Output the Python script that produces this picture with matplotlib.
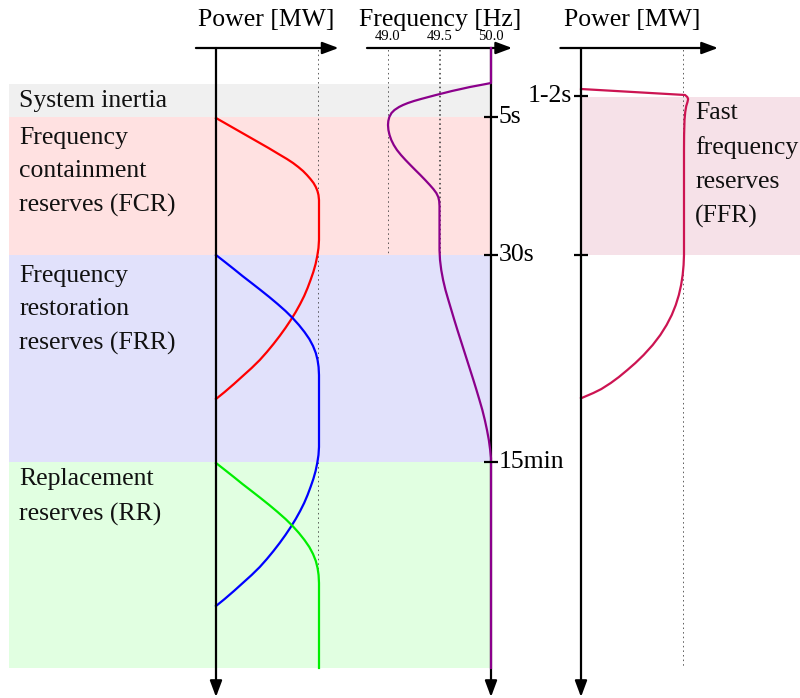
import matplotlib
matplotlib.use("Agg")
import matplotlib.pyplot as plt

plt.rcParams['font.family'] = ['Liberation Serif', 'DejaVu Serif']

# ---------------- data ----------------
# schematic time axis (downwards), in figure rows
stage_names = ["System inertia",
               "Frequency\ncontainment\nreserves (FCR)",
               "Frequency\nrestoration\nreserves (FRR)",
               "Replacement\nreserves (RR)"]
stage_bounds = [84, 117, 255, 462, 668]
stage_colors = ["#f0f0f0", "#ffe1e1", "#e1e1fb", "#e1ffe1"]
ffr_band = [97, 255]
ffr_color = "#f6e1e8"

time_ticks = [117, 255, 462]
time_labels = ["5s", "30s", "15min"]
ffr_ticks = [96, 255]
ffr_labels = ["1-2s", ""]

freq_ticks = [49.0, 49.5, 50.0]
freq_labels = ["49.0", "49.5", "50.0"]

# power in % of max vs time row
fcr_t = [118, 124, 130, 136, 142, 148, 154, 159, 163, 167, 171, 175, 179,
         183, 187, 191, 195, 200, 240,
         248, 256, 264, 272, 280, 288, 296, 304, 312, 320, 328, 336, 344,
         352, 360, 368, 376, 384, 392, 399]
fcr_p = [0, 10.2, 20.4, 30.6, 40.8, 51.0, 60.7, 68.9, 74.8, 79.9, 84.5,
         88.3, 91.7, 94.7, 96.9, 98.5, 99.5, 100, 100,
         99.5, 98.3, 96.7, 94.5, 91.8, 88.9, 85.6, 81.7, 77.4, 72.6, 67.4,
         61.8, 55.8, 49.4, 42.5, 34.6, 26.0, 17.4, 8.4, 0]

frr_t = [255, 262, 269, 276, 283, 290, 297, 304, 311, 318, 325, 332, 339,
         346, 353, 360, 367, 375, 447,
         455, 463, 471, 479, 487, 495, 503, 511, 519, 527, 535, 543, 551,
         559, 567, 575, 583, 591, 599, 606]
frr_p = [0, 8.7, 17.3, 25.7, 34.5, 43.2, 51.7, 59.8, 67.5, 74.4, 80.5,
         85.9, 90.6, 94.2, 96.9, 98.6, 99.6, 100, 100,
         99.5, 98.3, 96.7, 94.5, 91.8, 88.9, 85.6, 81.7, 77.4, 72.6, 67.4,
         61.8, 55.8, 49.4, 42.5, 34.6, 26.0, 17.4, 8.4, 0]

rr_t = [463, 470, 477, 484, 491, 498, 505, 512, 519, 526, 533, 540, 547,
        554, 561, 568, 575, 583, 668]
rr_p = [0, 8.7, 17.3, 25.7, 34.5, 43.2, 51.7, 59.8, 67.5, 74.4, 80.5,
        85.9, 90.6, 94.2, 96.9, 98.6, 99.6, 100, 100]

freq_t = [48, 83, 84, 85.5, 87, 89, 91, 93, 95, 97, 99, 101, 103, 105, 107,
          110, 113, 117, 121, 125, 130, 135, 140, 145, 150, 155, 160, 165,
          170, 175, 180, 185, 189, 193, 197, 201, 206, 250, 260, 270, 280,
          290, 300, 310, 320, 330, 340, 350, 360, 370, 380, 390, 400, 410,
          420, 430, 440, 450, 458, 668]
freq_hz = [50.0, 50.0, 49.951, 49.874, 49.796, 49.709, 49.621, 49.544,
           49.466, 49.393, 49.320, 49.252, 49.194, 49.146, 49.107, 49.063,
           49.034, 49.013, 49.003, 49.000, 49.004, 49.015, 49.032, 49.056,
           49.087, 49.126, 49.170, 49.217, 49.265, 49.314, 49.361, 49.406,
           49.440, 49.469, 49.488, 49.497, 49.500, 49.500, 49.505, 49.517,
           49.535, 49.558, 49.586, 49.615, 49.644, 49.674, 49.705, 49.736,
           49.767, 49.798, 49.829, 49.859, 49.888, 49.916, 49.940, 49.961,
           49.979, 49.992, 50.0, 50.0]

ffr_t = [89, 95, 97, 99, 102, 106, 112, 120, 135, 150, 255, 265, 275, 285,
         295, 305, 315, 325, 335, 345, 355, 363, 370, 377, 383, 389, 393,
         398.3]
ffr_p = [0, 101.0, 103.2, 104.0, 103.4, 102.2, 101.2, 100.5, 100.1, 100,
         100, 99.6, 98.7, 97.2, 95.0, 92.0, 88.1, 83.1, 77.0, 69.6, 60.8,
         52.8, 45.0, 36.8, 28.9, 19.8, 12.0, 0]

# ---------------- layout ----------------
W, H = 800, 698
fig = plt.figure(figsize=(W / 100, H / 100), dpi=100)
bg = fig.add_axes([0, 0, 1, 1])
bg.set_xlim(0, W)
bg.set_ylim(H, 0)
bg.axis('off')

AX_TOP, AX_BOT = 48, 697


def panel(x0, x1, v0, v1):
    ax = fig.add_axes([x0 / W, 0, (x1 - x0) / W, 1])
    ax.set_xlim(v0, v1)
    ax.set_ylim(H, 0)
    ax.axis('off')
    ax.patch.set_alpha(0)
    return ax


axP = panel(216, 319, 0, 100)
axF = panel(388, 491, 49.0, 50.0)
axR = panel(581, 684, 0, 100)

# background bands
for (y0, y1, c) in zip(stage_bounds[:-1], stage_bounds[1:], stage_colors):
    bg.axhspan(y0, y1, xmin=9 / W, xmax=491 / W, color=c, lw=0, zorder=0)
bg.axhspan(ffr_band[0], ffr_band[1], xmin=581 / W, xmax=1, color=ffr_color,
           lw=0, zorder=0)

FS = 18.5
LS = 1.68
text_rows = [101, 172, 310, 497]
for name, r in zip(stage_names, text_rows):
    bg.text(19, r, name, fontsize=FS, ha='left', va='center',
            linespacing=LS, color='#111111')
bg.text(695, 165, "Fast\nfrequency\nreserves\n(FFR)", fontsize=FS,
        ha='left', va='center', linespacing=LS, color='#111111')

# titles
bg.text(266, 20, "Power [MW]", fontsize=FS, ha='center', va='center')
bg.text(440, 20, "Frequency [Hz]", fontsize=FS, ha='center', va='center')
bg.text(632, 20, "Power [MW]", fontsize=FS, ha='center', va='center')

arrow_kw = dict(arrowstyle='-|>,head_length=0.75,head_width=0.28',
                color='black', lw=1.6, shrinkA=0, shrinkB=0,
                mutation_scale=13)


def axes_arrows(ax, x_axis_val, h0, h1):
    ax.annotate('', xy=(h1, AX_TOP), xytext=(h0, AX_TOP), arrowprops=arrow_kw,
                annotation_clip=False, zorder=5)
    ax.annotate('', xy=(x_axis_val, AX_BOT), xytext=(x_axis_val, AX_TOP),
                arrowprops=arrow_kw, annotation_clip=False, zorder=5)


axes_arrows(axP, 0, -19.5, 119)
axes_arrows(axF, 50.0, 48.796, 50.205)
axes_arrows(axR, 0, -20, 133)

# dotted reference lines
dot_kw = dict(color='#333333', lw=1.1, ls=(0, (1, 2.0)), zorder=2)
axP.plot([100, 100], [50, stage_bounds[-1]], **dot_kw)
axR.plot([100, 100], [50, stage_bounds[-1]], **dot_kw)
for f in freq_ticks[:2]:
    axF.plot([f, f], [50, stage_bounds[2]], **dot_kw)

# frequency tick labels
for f, lab in zip(freq_ticks, freq_labels):
    axF.text(f, 37, lab, fontsize=10.5, ha='center', va='center')

# time ticks
axF.plot([50.0] * len(time_ticks), time_ticks, ls='none', marker='_', ms=10,
         mew=1.6, color='black', zorder=7, clip_on=False)
for t, lab in zip(time_ticks, time_labels):
    bg.text(499, t, lab, fontsize=FS, ha='left', va='center')
axR.plot([0] * len(ffr_ticks), ffr_ticks, ls='none', marker='_', ms=10,
         mew=1.6, color='black', zorder=7, clip_on=False)
for t, lab in zip(ffr_ticks, ffr_labels):
    bg.text(572, t, lab, fontsize=FS, ha='right', va='center')

# curves
lw = 1.6
kw = dict(lw=lw, clip_on=False, solid_joinstyle='round')
axP.plot(fcr_p, fcr_t, color='#ff0000', zorder=4, **kw)
axP.plot(frr_p, frr_t, color='#0000ff', zorder=4, **kw)
axP.plot(rr_p, rr_t, color='#00ee00', zorder=4, **kw)
axF.plot(freq_hz, freq_t, color='#8b008b', zorder=6, **kw)
axR.plot(ffr_p, ffr_t, color='#cc1452', zorder=4, **kw)

fig.savefig("out.png", dpi=100)
